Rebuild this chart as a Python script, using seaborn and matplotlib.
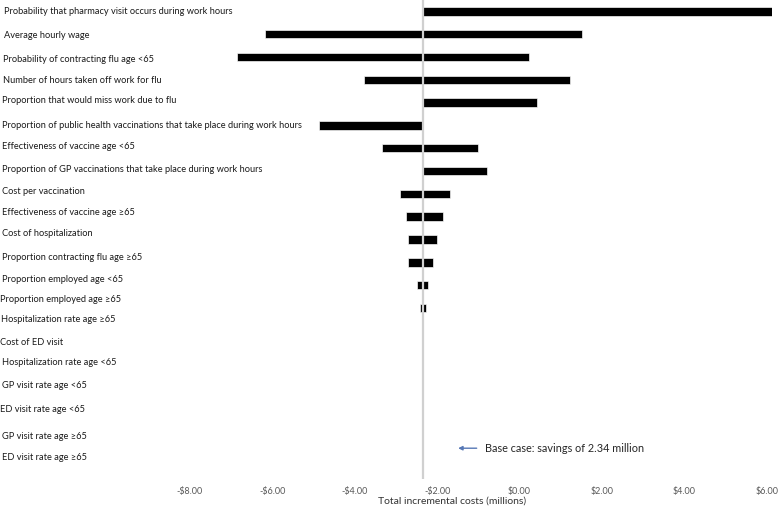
import matplotlib
matplotlib.use("Agg")
import matplotlib.pyplot as plt
import matplotlib.transforms as mtransforms
from matplotlib.ticker import FuncFormatter
import seaborn as sns
import pandas as pd

# ---------------- data ----------------
BASE = -2.34  # base case total incremental cost (millions)

categories = [
    "Probability that pharmacy visit occurs during work hours",
    "Average hourly wage",
    "Probability of contracting flu age <65",
    "Number of hours taken off work for flu",
    "Proportion that would miss work due to flu",
    "Proportion of public health vaccinations that take place during work hours",
    "Effectiveness of vaccine age <65",
    "Proportion of GP vaccinations that take place during work hours",
    "Cost per vaccination",
    "Effectiveness of vaccine age \u226565",
    "Cost of hospitalization",
    "Proportion contracting flu age \u226565",
    "Proportion employed age <65",
    "Proportion employed age \u226565",
    "Hospitalization rate age \u226565",
    "Cost of ED visit",
    "Hospitalization rate age <65",
    "GP visit rate age <65",
    "ED visit rate age <65",
    "GP visit rate age \u226565",
    "ED visit rate age \u226565",
]

low_values = [-2.34, -6.18, -6.86, -3.77, -2.34, -4.86, -3.35, -2.34, -2.90, -2.76,
              -2.71, -2.71, -2.48, -2.42, -2.34, -2.34, -2.34, -2.34, -2.34, -2.34, -2.34]
high_values = [6.12, 1.52, 0.24, 1.23, 0.42, -2.34, -1.00, -0.78, -1.69, -1.86,
               -2.01, -2.09, -2.22, -2.27, -2.34, -2.34, -2.34, -2.34, -2.34, -2.34, -2.34]

x_ticks = [-8, -6, -4, -2, 0, 2, 4, 6]
x_title = "Total incremental costs (millions)"
annotation_text = "Base case: savings of 2.34 million"

# ---------------- layout (not data) ----------------
W, H = 778, 508
label_dy_px = [0.3, 0.8, 2.3, 0.2, -2.6, 0.3, -1.5, -2.0, -2.1, -3.9, -6.1,
               -4.9, -6.0, -8.8, -11.6, -11.4, -13.5, -14.0, -12.8, -8.6, -9.7]
label_x_px = [4, 4, 3.3, 3.3, 2.3, 2.3, 2.3, 2.3, 2.3, 2.3, 2.3,
              1.7, 1.7, 0, 0.7, 0, 2.3, 2.3, 0, 2.3, 1.7]
ROW_PX = 479 / 21

df = pd.DataFrame({"param": categories, "low": low_values, "high": high_values})
df["left_w"] = df["low"] - BASE
df["right_w"] = df["high"] - BASE

sns.set_theme(style="white")
plt.rcParams["font.family"] = ["Lato", "DejaVu Sans"]

fig = plt.figure(figsize=(W / 100, H / 100), dpi=100)
ax = fig.add_axes([190 / W, 1 - 479 / H, (772 - 190) / W, 479 / H])

bar_kw = dict(order=categories, color="black", width=0.37, errorbar=None,
              edgecolor="white", linewidth=0.45, orient="h", ax=ax)
sns.barplot(data=df, y="param", x="left_w", left=BASE, **bar_kw)
sns.barplot(data=df, y="param", x="right_w", left=BASE, **bar_kw)

ax.axvline(BASE, color="#d0d0d0", lw=1.6, zorder=5)

ax.set_xlim(-8, 6.13)
ax.set_ylim(len(categories) - 0.5, -0.5)
ax.set_xticks(x_ticks)
ax.xaxis.set_major_formatter(FuncFormatter(
    lambda v, p: f"-${abs(v):.2f}" if v < 0 else f"${v:.2f}"))
ax.tick_params(axis="x", length=0, pad=6, labelcolor="#595959", labelsize=7)
ax.set_yticks([])
ax.set_ylabel("")
ax.set_xlabel(x_title, fontsize=9, color="#333333")
ax.xaxis.label.set_va("center")
ax.xaxis.set_label_coords((452 - 190) / (772 - 190), (479 - 501) / 479)
for s in ax.spines.values():
    s.set_visible(False)

trans = mtransforms.blended_transform_factory(fig.transFigure, ax.transData)
label_texts = []
for i, name in enumerate(categories):
    t = ax.text(label_x_px[i] / W, i + label_dy_px[i] / ROW_PX, name,
                transform=trans, ha="left", va="center", fontsize=7.5,
                color="#1a1a1a", clip_on=False)
    label_texts.append(t)

# base-case annotation: arrow + text
ax.annotate("", xy=(-1.49, 19.15), xytext=(-1.04, 19.15),
            arrowprops=dict(arrowstyle="-|>", color="#5677b5", lw=1.0,
                            mutation_scale=6, shrinkA=0, shrinkB=0))
ann = ax.text(-0.84, 19.15, annotation_text, ha="left", va="center",
              fontsize=8, color="#262626")

# fit font sizes to the measured widths of the reference text
fig.canvas.draw()
r = fig.canvas.get_renderer()
s = 229 / label_texts[0].get_window_extent(r).width
for t in label_texts:
    t.set_fontsize(t.get_fontsize() * s)
ann.set_fontsize(ann.get_fontsize() * 160 / ann.get_window_extent(r).width)
xl = ax.xaxis.label
xl.set_fontsize(xl.get_fontsize() * 150 / xl.get_window_extent(r).width)
tl = ax.get_xticklabels()[0]
ax.tick_params(axis="x", labelsize=7 * 26 / tl.get_window_extent(r).width)

fig.savefig("out.png", dpi=100, facecolor="white")
